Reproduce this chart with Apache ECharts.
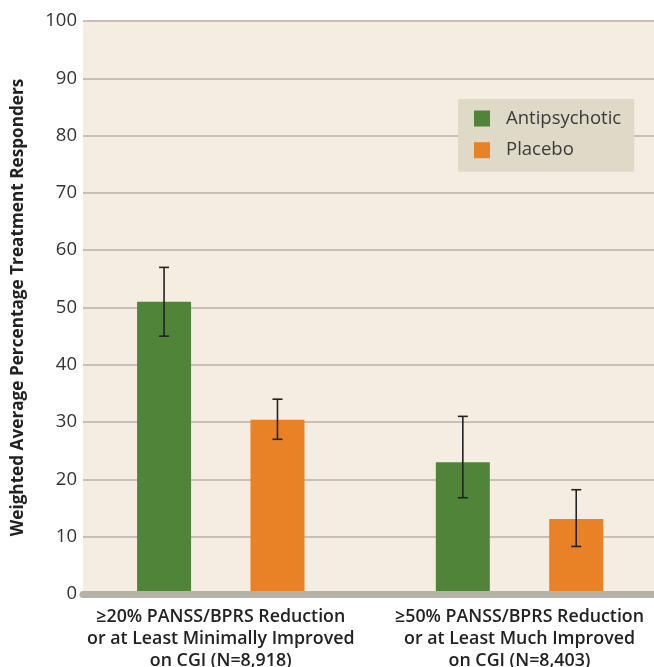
<!DOCTYPE html>
<html><head><meta charset="utf-8">
<script src="https://cdn.jsdelivr.net/npm/echarts@6/dist/echarts.min.js"></script>
<style>html,body{margin:0;padding:0;background:#fff}#c{width:654px;height:667px}</style>
</head><body><div id="c"></div>
<script>
var categories = [
  '\u226520% PANSS/BPRS Reduction\nor at Least Minimally Improved\non CGI (N=8,918)',
  '\u226550% PANSS/BPRS Reduction\nor at Least Much Improved\non CGI (N=8,403)'
];
var seriesNames = ['Antipsychotic', 'Placebo'];
var antipsychotic = [51, 23];
var placebo = [30.4, 13.1];
var antipsychoticErr = [[45, 57], [16.8, 31]];
var placeboErr = [[27, 34], [8.3, 18.2]];
var yTicks = [0, 10, 20, 30, 40, 50, 60, 70, 80, 90, 100];

var BAR_W = 54, GAP_RATIO = 1.1;
var FONT = '"Open Sans", Lato, sans-serif';

var errData = [];
antipsychoticErr.forEach(function (e, i) { errData.push([i, e[0], e[1], 0]); });
placeboErr.forEach(function (e, i) { errData.push([i, e[0], e[1], 1]); });

var chart = echarts.init(document.getElementById('c'), null, { renderer: 'canvas' });
chart.setOption({
  animation: false,
  backgroundColor: '#ffffff',
  textStyle: { fontFamily: FONT },
  grid: [
    { left: 83, right: 0, top: 21, bottom: 73, show: true, backgroundColor: '#f5ede1', borderWidth: 0, outerBoundsMode: 'none', containLabel: false },
    { left: 71.4, width: 597.5, top: 21, bottom: 73, show: false, outerBoundsMode: 'none', containLabel: false }
  ],
  legend: {
    data: seriesNames,
    orient: 'vertical',
    left: 458, top: 99,
    backgroundColor: '#dfd9c7',
    padding: [10, 13, 12, 16],
    itemWidth: 16, itemHeight: 16, itemGap: 12.7,
    icon: 'rect',
    textStyle: { fontFamily: FONT, fontSize: 18.5, color: '#3a3a3a', padding: [0, 0, 0, 11] }
  },
  xAxis: [
    { gridIndex: 0, type: 'category', data: categories,
      axisLine: { show: true, lineStyle: { color: '#b7b1aa', width: 7 } },
      axisTick: { show: false }, axisLabel: { show: false }, splitLine: { show: false }, z: 5 },
    { gridIndex: 1, type: 'category', data: categories,
      axisLine: { show: false }, axisTick: { show: false },
      axisLabel: { show: true, margin: 12, fontFamily: FONT, fontSize: 17.8, fontWeight: 600, color: '#222', lineHeight: 22, interval: 0 } }
  ],
  yAxis: [
    { gridIndex: 0, type: 'value', min: yTicks[0], max: yTicks[yTicks.length - 1], interval: 10,
      name: 'Weighted Average Percentage Treatment Responders',
      nameLocation: 'middle', nameGap: 56,
      nameTextStyle: { fontFamily: FONT, fontSize: 17.2, fontWeight: 'bold', color: '#222' },
      axisLine: { show: false }, axisTick: { show: false },
      axisLabel: { margin: 6, fontFamily: FONT, fontSize: 18.5, color: '#333' },
      splitLine: { show: true, lineStyle: { color: '#c8c0b6', width: 2 } } },
    { gridIndex: 1, type: 'value', min: yTicks[0], max: yTicks[yTicks.length - 1], interval: 10, show: false,
      splitLine: { show: false } }
  ],
  series: [
    { name: seriesNames[0], type: 'bar', xAxisIndex: 1, yAxisIndex: 1, data: antipsychotic,
      barWidth: BAR_W, barGap: (GAP_RATIO * 100) + '%', itemStyle: { color: '#4f8439' }, z: 2 },
    { name: seriesNames[1], type: 'bar', xAxisIndex: 1, yAxisIndex: 1, data: placebo,
      barWidth: BAR_W, barGap: (GAP_RATIO * 100) + '%', itemStyle: { color: '#e98126' }, z: 2 },
    { type: 'custom', xAxisIndex: 1, yAxisIndex: 1, data: errData, z: 10,
      encode: { x: 0, y: [1, 2] },
      renderItem: function (params, api) {
        var cat = api.value(0), lo = api.value(1), hi = api.value(2), s = api.value(3);
        var off = (s === 0 ? -1 : 1) * (BAR_W + BAR_W * GAP_RATIO) / 2;
        var pLo = api.coord([cat, lo]), pHi = api.coord([cat, hi]);
        var x = pLo[0] + off, cap = 5;
        var st = { stroke: '#222', lineWidth: 1.6 };
        return { type: 'group', children: [
          { type: 'line', shape: { x1: x, y1: pLo[1], x2: x, y2: pHi[1] }, style: st },
          { type: 'line', shape: { x1: x - cap, y1: pLo[1], x2: x + cap, y2: pLo[1] }, style: st },
          { type: 'line', shape: { x1: x - cap, y1: pHi[1], x2: x + cap, y2: pHi[1] }, style: st }
        ] };
      } }
  ]
});
</script></body></html>
